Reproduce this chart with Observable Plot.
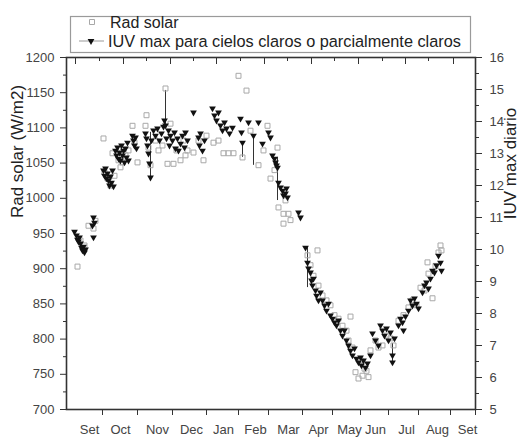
<!DOCTYPE html>
<html><head><meta charset="utf-8">
<script src="https://cdn.jsdelivr.net/npm/d3@7"></script>
<script src="https://cdn.jsdelivr.net/npm/@observablehq/plot@0.6"></script>
<style>
body{margin:0;background:#fff;font-family:"Liberation Sans",Arial,sans-serif;}
#wrap{position:relative;width:523px;height:443px;}
#legend{position:absolute;left:0;top:0;width:523px;height:54px;}
#chart svg{display:block;}
</style></head><body>
<div id="wrap">
<div id="chart"></div>
<div id="legend"></div>
</div>
<script>
// ---- data (x = day index from start of season) ----
const iuvDia = [8,10,11,12,13,14,15,16,17,18,19,26,27,27,28,
 37,38,39,40,41,42,43,44,45,46,47,49,50,51,52,53,54,55,56,57,58,59,60,61,62,66,67,68,69,70,
 79,80,81,82,83,84,85,87,89,91,93,95,97,98,99,100,102,103,104,106,108,109,111,112,114,116,118,119,121,
 127,132,133,134,136,138,
 146,148,150,152,154,156,158,160,163,166,
 174,175,176,182,187,192,196,202,204,206,208,209,210,211,212,214,216,217,219,220,221,
 232,234,
 239,241,242,244,245,246,247,249,250,252,254,256,258,260,262,264,266,268,270,272,274,276,278,
 280,282,284,286,288,290,292,294,295,297,299,301,
 304,306,309,312,314,316,318,320,322,324,326,326,328,
 332,334,336,337,339,342,344,346,348,350,352,
 356,358,360,362,364,366,368,370,372,374,375];
const iuvVal = [10.56,10.44,10.31,10.25,10.38,10.19,10.06,9.97,10.09,9.91,10.0,10.75,11.0,10.38,10.84,
 12.47,12.31,12.53,12.22,12.38,12.16,12.0,12.28,12.09,12.47,11.97,13.09,12.94,13.19,12.84,13.03,12.78,13.25,12.94,13.09,12.72,13.16,12.88,13.34,12.78,13.56,13.41,13.25,13.5,13.16,
 13.63,13.47,13.25,13.0,12.69,12.25,13.41,13.72,13.56,13.78,13.41,13.63,13.84,14.03,13.88,13.47,13.72,13.25,13.56,13.41,13.66,13.16,13.47,13.09,13.31,13.56,13.19,13.66,13.41,
 14.28,13.5,13.25,13.63,13.09,13.41,
 14.41,14.19,14.03,14.28,13.88,13.72,13.97,13.78,13.63,13.81,
 14.09,13.66,13.34,13.97,13.56,13.97,13.31,13.66,13.5,12.94,12.84,12.72,12.63,12.56,12.09,11.94,11.84,11.69,11.75,11.91,11.63,
 11.16,11.0,
 10.06,9.59,9.41,9.28,9.03,8.88,9.09,8.72,8.56,8.41,8.66,8.41,8.25,8.09,8.31,7.94,7.84,7.72,7.63,7.78,7.47,7.31,7.47,
 7.16,7.0,6.84,6.69,6.91,6.59,6.47,6.63,6.38,6.53,6.31,6.44,
 6.69,7.38,7.16,7.0,7.63,7.47,7.31,7.53,7.16,7.41,6.69,6.47,7.22,
 7.63,7.84,7.72,7.47,7.91,8.09,8.41,8.25,8.47,8.31,8.16,
 8.66,8.88,8.97,8.78,9.09,9.34,9.28,9.5,9.81,9.59,9.34];

const radDia = [11,14,18,22,27,29,
 37,38,41,44,46,48,52,54,56,59,62,66,68,71,
 79,80,82,84,89,92,96,99,101,104,107,110,114,117,119,121,
 127,132,137,140,
 147,152,157,162,167,172,180,
 176,184,192,197,201,204,208,211,212,217,217,219,222,224,
 241,244,247,251,252,256,260,264,268,272,276,280,
 282,284,286,289,292,294,296,298,300,
 302,304,309,312,316,320,324,327,
 332,337,342,346,350,
 354,358,361,362,366,369,372,374,375];
const radVal = [903,940,933,961,957,968,
 1085,1037,1028,1018,1064,1032,1054,1044,1051,1061,1068,1103,1079,1051,
 1103,1118,1072,1047,1082,1068,1075,1156,1049,1106,1049,1068,1054,1082,1061,1068,
 1065,1082,1054,1089,
 1079,1082,1064,1064,1064,1174,1153,
 1058,1096,1047,1068,1103,1028,1040,1072,987,978,964,997,978,969,
 919,905,890,926,876,862,855,848,834,829,819,812,
 798,832,788,753,744,770,748,758,755,
 746,784,798,788,791,805,801,791,
 826,834,845,855,848,
 873,869,909,893,858,904,923,933,926];

// vertical bars on IUV series
const barDia = [84, 99, 176, 187, 211, 241, 326];
const barLo  = [12.25, 13.88, 12.88, 12.63, 11.53, 8.81, 6.47];
const barHi  = [13.66, 14.97, 13.34, 13.56, 12.88, 10.06, 7.06];

// axes
const monthTicks = [36, 71, 106, 140, 172, 202, 236, 266, 294, 322, 352, 384, 409];
const monthLabelPos = [23, 54, 91, 125, 157, 189, 222, 252, 283, 309, 340, 371, 401];
const monthLabels = ["Set","Oct","Nov","Dec","Jan","Feb","Mar","Apr","May","Jun","Jul","Aug","Set"];
const topMajor = [9, 57, 104, 150, 198, 245, 292, 339, 387];
const topMinor = [33, 80, 127, 174, 221, 268, 316, 362];
const radTicks = [700,750,800,850,900,950,1000,1050,1100,1150,1200];
const radMinor = [725,775,825,875,925,975,1025,1075,1125,1175];
const iuvTicks = [5,6,7,8,9,10,11,12,13,14,15,16];
const iuvMinor = [5.5,6.5,7.5,8.5,9.5,10.5,11.5,12.5,13.5,14.5,15.5];

const iuvToRad = d3.scaleLinear([5,16],[700,1200]);

const rad = radDia.map((d,i)=>({dia:d, v:radVal[i]}));
const iuv = iuvDia.map((d,i)=>({dia:d, v:iuvVal[i]}));
const bars = barDia.map((d,i)=>({dia:d, lo:barLo[i], hi:barHi[i]}));

const triDown = {draw(ctx, size){
  const y = Math.sqrt(size/(Math.sqrt(3)*3));
  const x = Math.sqrt(3)*y;
  ctx.moveTo(0, 2*y); ctx.lineTo(-x,-y); ctx.lineTo(x,-y); ctx.closePath();
}};

const font = "'Liberation Sans', Arial, sans-serif";
const chart = Plot.plot({
  width: 523, height: 443,
  marginTop: 57, marginLeft: 66, marginRight: 48, marginBottom: 34,
  x: {domain: [0, 409]},
  y: {domain: [700, 1200]},
  style: {fontFamily: font, fontSize: "13px", color: "#444", background: "#fff", overflow: "visible"},
  marks: [
    Plot.axisY({anchor:"left", ticks: radTicks, tickSize: 6, tickPadding: 6, tickFormat: d => String(d), label: null, stroke:"#333"}),
    Plot.axisY({anchor:"left", ticks: radMinor, tickSize: 3, tickFormat: () => "", label: null, stroke:"#333"}),
    Plot.axisY({anchor:"right", ticks: iuvTicks.map(iuvToRad), tickSize: 6, tickPadding: 8,
      tickFormat: d => String(Math.round(iuvToRad.invert(d))), label: null, stroke:"#333"}),
    Plot.axisY({anchor:"right", ticks: iuvMinor.map(iuvToRad), tickSize: 3, tickFormat: () => "", label: null, stroke:"#333"}),
    Plot.axisX({anchor:"bottom", ticks: monthTicks, tickSize: 6, tickFormat: () => "", label: null, stroke:"#333"}),
    Plot.axisX({anchor:"bottom", ticks: monthLabelPos, tickSize: 0, tickPadding: 15,
      tickFormat: d => monthLabels[monthLabelPos.indexOf(d)], label: null}),
    Plot.axisX({anchor:"top", ticks: topMajor, tickSize: 6, dy: 6, tickFormat: () => "", label: null, stroke:"#333"}),
    Plot.axisX({anchor:"top", ticks: topMinor, tickSize: 3, dy: 3, tickFormat: () => "", label: null, stroke:"#333"}),
    Plot.frame({stroke: "#333", strokeWidth: 1.6}),
    Plot.ruleX(bars, {x: "dia", y1: d => iuvToRad(d.lo), y2: d => iuvToRad(d.hi), stroke: "#333", strokeWidth: 1}),
    Plot.dot(rad, {x: "dia", y: "v", symbol: "square", r: 2.8, stroke: "#a8a8a8", fill: "none", strokeWidth: 1}),
    Plot.dot(iuv, {x: "dia", y: d => iuvToRad(d.v), symbol: triDown, r: 2.5, fill: "#111", stroke: "none"}),
    Plot.text(["Rad solar (W/m2)"], {frameAnchor: "left", textAnchor: "middle", rotate: -90, dx: -49, dy: -82, fontSize: 17, fill: "#222"}),
    Plot.text(["IUV max diario"], {frameAnchor: "right", textAnchor: "middle", rotate: -90, dx: 35, dy: -70, fontSize: 17, fill: "#222"})
  ]
});
document.getElementById("chart").appendChild(chart);

// legend
const lg = d3.select("#legend").append("svg").attr("width", 523).attr("height", 54)
  .style("font-family", font).style("display", "block");
lg.append("rect").attr("x", 70.5).attr("y", 16.5).attr("width", 400).attr("height", 36)
  .attr("fill", "#fff").attr("stroke", "#9a9a9a").attr("stroke-width", 1.2);
lg.append("path").attr("transform", "translate(92,22)").attr("d", d3.symbol(d3.symbolSquare, 25)())
  .attr("fill", "none").attr("stroke", "#a8a8a8");
lg.append("text").attr("x", 110).attr("y", 28).attr("font-size", 16).attr("fill", "#222").text("Rad solar");
lg.append("line").attr("x1", 79).attr("x2", 104).attr("y1", 41).attr("y2", 41).attr("stroke", "#999");
lg.append("path").attr("transform", "translate(91,41)").attr("d", d3.symbol(triDown, Math.PI*2.5*2.5)())
  .attr("fill", "#111");
lg.append("text").attr("x", 108).attr("y", 47).attr("font-size", 16.3).attr("fill", "#222")
  .text("IUV max para cielos claros o parcialmente claros");
</script>
</body></html>
